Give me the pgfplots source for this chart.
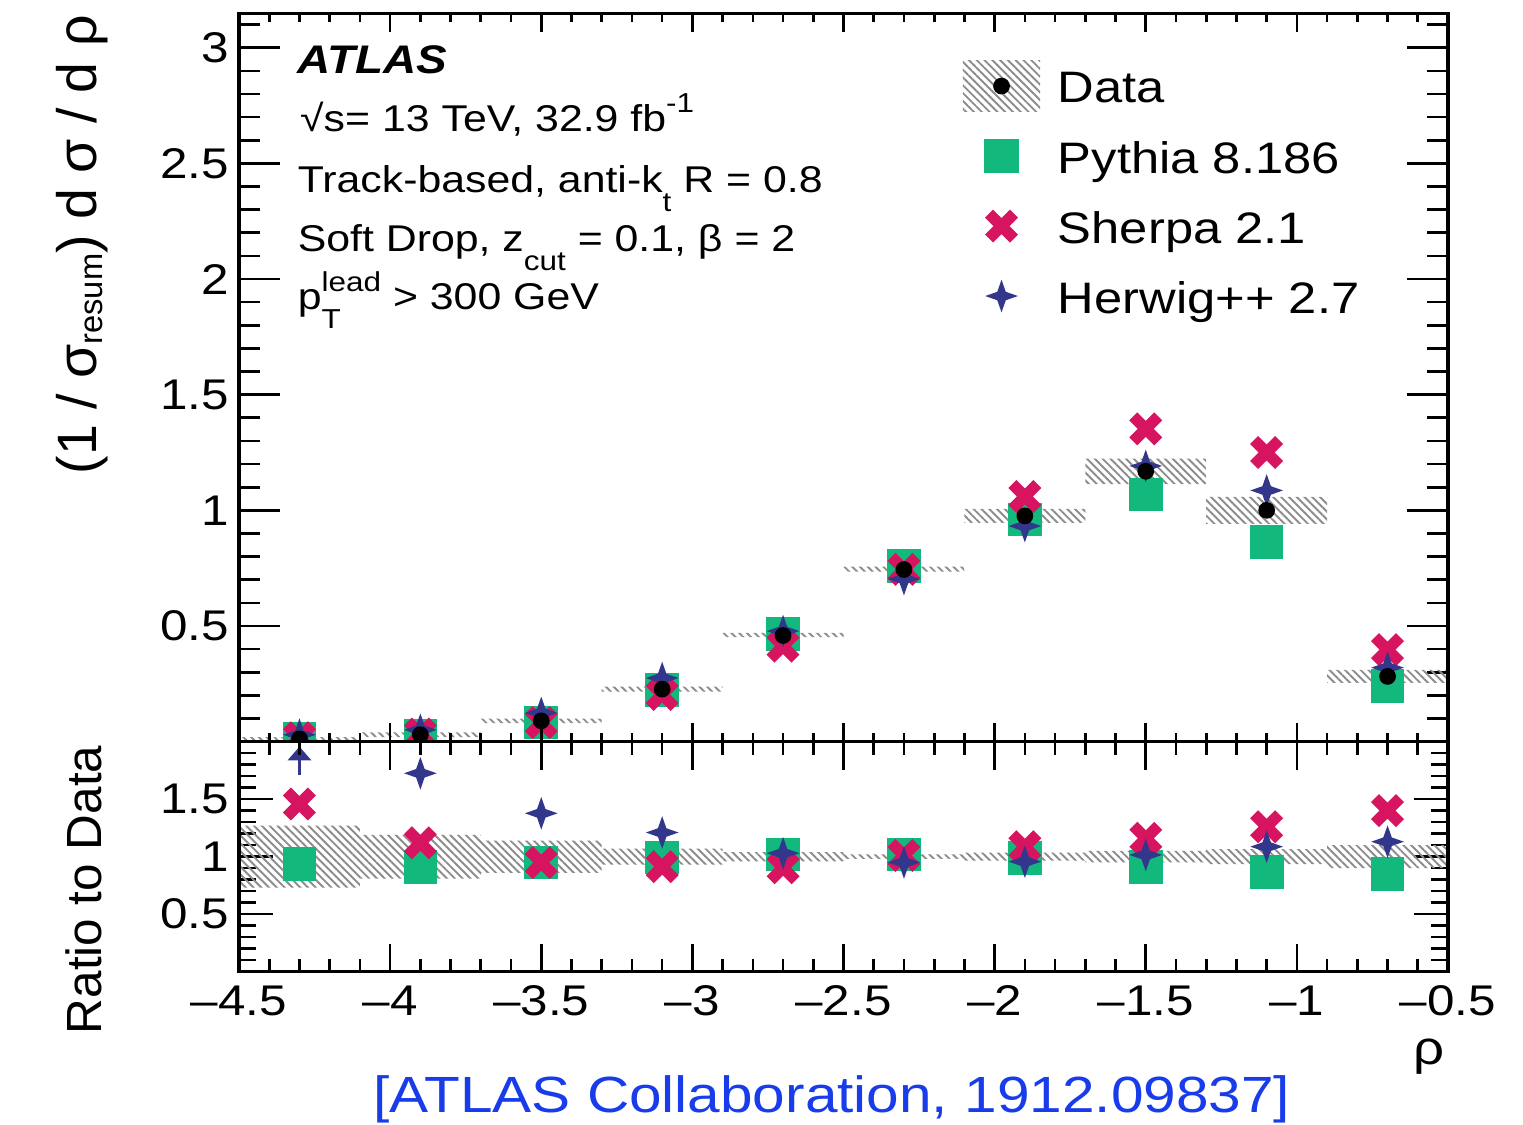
\documentclass[border=0pt]{standalone}
\usepackage{fontspec}
\setmainfont{Liberation Sans}[FakeStretch=1.15]
\newfontfamily\uprightlabel{Liberation Sans}
\usepackage{pgfplots}
\pgfplotsset{compat=1.18}
\usetikzlibrary{patterns.meta,arrows.meta}

\definecolor{pyg}{RGB}{18,184,124}
\definecolor{shp}{RGB}{214,20,96}
\definecolor{hwb}{RGB}{50,55,140}
\definecolor{hatch}{RGB}{140,140,140}
\definecolor{citeblue}{RGB}{25,60,235}

\newcommand\tsub[1]{\raisebox{-0.5em}{\fontsize{7.2}{7.2}\selectfont #1}}
\newcommand\tsup[1]{\raisebox{0.5em}{\fontsize{7.2}{7.2}\selectfont #1}}
\newcommand\labsub[1]{\raisebox{-0.12em}{\fontsize{8.6}{8.6}\selectfont #1}}
\newcommand\tickfont{\fontsize{11.3}{11.3}\selectfont}
\newcommand\infofont{\fontsize{9.8}{9.8}\selectfont}

% filled four-pointed star (Herwig++)
\pgfdeclareplotmark{fourstar}{%
  \pgfpathmoveto{\pgfqpoint{0pt}{\pgfplotmarksize}}%
  \pgfpathlineto{\pgfqpoint{0.26\pgfplotmarksize}{0.26\pgfplotmarksize}}%
  \pgfpathlineto{\pgfqpoint{\pgfplotmarksize}{0pt}}%
  \pgfpathlineto{\pgfqpoint{0.26\pgfplotmarksize}{-0.26\pgfplotmarksize}}%
  \pgfpathlineto{\pgfqpoint{0pt}{-\pgfplotmarksize}}%
  \pgfpathlineto{\pgfqpoint{-0.26\pgfplotmarksize}{-0.26\pgfplotmarksize}}%
  \pgfpathlineto{\pgfqpoint{-\pgfplotmarksize}{0pt}}%
  \pgfpathlineto{\pgfqpoint{-0.26\pgfplotmarksize}{0.26\pgfplotmarksize}}%
  \pgfpathclose
  \pgfusepathqfill}
% filled thick diagonal cross (Sherpa)
\pgfdeclareplotmark{thickx}{%
  \pgfpathmoveto{\pgfqpoint{-0.4808\pgfplotmarksize}{0.9334\pgfplotmarksize}}%
  \pgfpathlineto{\pgfqpoint{0pt}{0.4525\pgfplotmarksize}}%
  \pgfpathlineto{\pgfqpoint{0.4808\pgfplotmarksize}{0.9334\pgfplotmarksize}}%
  \pgfpathlineto{\pgfqpoint{0.9334\pgfplotmarksize}{0.4808\pgfplotmarksize}}%
  \pgfpathlineto{\pgfqpoint{0.4525\pgfplotmarksize}{0pt}}%
  \pgfpathlineto{\pgfqpoint{0.9334\pgfplotmarksize}{-0.4808\pgfplotmarksize}}%
  \pgfpathlineto{\pgfqpoint{0.4808\pgfplotmarksize}{-0.9334\pgfplotmarksize}}%
  \pgfpathlineto{\pgfqpoint{0pt}{-0.4525\pgfplotmarksize}}%
  \pgfpathlineto{\pgfqpoint{-0.4808\pgfplotmarksize}{-0.9334\pgfplotmarksize}}%
  \pgfpathlineto{\pgfqpoint{-0.9334\pgfplotmarksize}{-0.4808\pgfplotmarksize}}%
  \pgfpathlineto{\pgfqpoint{-0.4525\pgfplotmarksize}{0pt}}%
  \pgfpathlineto{\pgfqpoint{-0.9334\pgfplotmarksize}{0.4808\pgfplotmarksize}}%
  \pgfpathclose
  \pgfusepathqfill}

\pgfplotsset{
  atlasframe/.style={
    scale only axis, width=318.16pt, xmin=-4.5, xmax=-0.5,
    tick align=inside, tick pos=both,
    axis line style={line width=0.8pt},
    tick style={black, line width=0.7pt}},
  hatchband/.style={draw=none, unbounded coords=jump, pattern={Lines[angle=-45,distance=1.45pt,line width=0.5pt]}, pattern color=hatch, forget plot},
  pythia/.style={only marks, mark=square*, mark size=4.3pt, mark options={fill=pyg, draw=pyg, line width=0pt}, forget plot},
  sherpa/.style={only marks, mark=thickx, mark size=4.65pt, mark options={fill=shp, draw=none}, forget plot},
  herwig/.style={only marks, mark=fourstar, mark size=4.3pt, mark options={fill=hwb, draw=none}, forget plot},
  datapts/.style={only marks, mark=*, mark size=2pt, mark options={fill=black, draw=black}, forget plot},
}

\begin{document}
\begin{tikzpicture}

% ---------------- distribution panel ----------------
\begin{axis}[atlasframe, at={(62.9pt,100.87pt)}, anchor=south west,
  height=191.5pt, ymin=0, ymax=3.146,
  xtick=\empty,
  ytick={0.5,1,1.5,2,2.5,3}, yticklabels={0.5,1,1.5,2,2.5,3},
  minor ytick={0,0.1,...,3.1},
  major tick length=10.8pt, minor tick length=5.5pt,
  yticklabel style={font=\tickfont, inner sep=0pt, xshift=-2.4pt},
  every axis y label/.style={at={(axis description cs:-0.1299,0.9993)}, rotate=90, anchor=east, inner sep=0pt, font=\uprightlabel\fontsize{14.6}{14.6}\selectfont},
  ylabel={(1 / σ\labsub{resum}) d σ / d ρ},
  legend style={draw=none, fill=none, at={(axis description cs:0.5988,0.949)}, anchor=north west,
    inner sep=0pt, outer sep=0pt, row sep=0pt, font=\fontsize{11.6}{11.6}\selectfont,
    nodes={inner sep=0pt},
    /tikz/every odd column/.append style={column sep=4.7pt}},
  legend cell align=left,
]
% data uncertainty per bin: (left,lo) (right,lo) (right,hi) (left,hi)
\addplot[hatchband] coordinates {
  (-4.5,0.004) (-4.1,0.004) (-4.1,0.020) (-4.5,0.020) (-4.3,nan)
  (-4.1,0.020) (-3.7,0.020) (-3.7,0.040) (-4.1,0.040) (-3.9,nan)
  (-3.7,0.080) (-3.3,0.080) (-3.3,0.100) (-3.7,0.100) (-3.5,nan)
  (-3.3,0.216) (-2.9,0.216) (-2.9,0.238) (-3.3,0.238) (-3.1,nan)
  (-2.9,0.452) (-2.5,0.452) (-2.5,0.470) (-2.9,0.470) (-2.7,nan)
  (-2.5,0.735) (-2.1,0.735) (-2.1,0.757) (-2.5,0.757) (-2.3,nan)
  (-2.1,0.946) (-1.7,0.946) (-1.7,1.006) (-2.1,1.006) (-1.9,nan)
  (-1.7,1.113) (-1.3,1.113) (-1.3,1.224) (-1.7,1.224) (-1.5,nan)
  (-1.3,0.942) (-0.9,0.942) (-0.9,1.058) (-1.3,1.058) (-1.1,nan)
  (-0.9,0.254) (-0.5,0.254) (-0.5,0.310) (-0.9,0.310)};

\addplot[pythia] coordinates {
  (-4.3,0.011) (-3.9,0.026) (-3.5,0.083) (-3.1,0.222) (-2.7,0.464)
  (-2.3,0.760) (-1.9,0.961) (-1.5,1.069) (-1.1,0.864) (-0.7,0.240)};
\addplot[sherpa] coordinates {
  (-4.3,0.017) (-3.9,0.033) (-3.5,0.082) (-3.1,0.204) (-2.7,0.413)
  (-2.3,0.745) (-1.9,1.060) (-1.5,1.352) (-1.1,1.250) (-0.7,0.398)};
\addplot[herwig] coordinates {
  (-4.3,0.030) (-3.9,0.051) (-3.5,0.124) (-3.1,0.275) (-2.7,0.478)
  (-2.3,0.703) (-1.9,0.932) (-1.5,1.192) (-1.1,1.086) (-0.7,0.320)};
\addplot[datapts] coordinates {
  (-4.3,0.012) (-3.9,0.030) (-3.5,0.090) (-3.1,0.227) (-2.7,0.459)
  (-2.3,0.744) (-1.9,0.976) (-1.5,1.169) (-1.1,1.000) (-0.7,0.282)};

\addlegendimage{legend image code/.code={
  \path[draw=none, fill=none] (0pt,-8.01pt) rectangle (20.3pt,10.41pt);
  \fill[draw=none, pattern={Lines[angle=-45,distance=1.45pt,line width=0.5pt]}, pattern color=hatch] (0pt,-5.4pt) rectangle (20.3pt,7.8pt);
  \draw[only marks, mark=*, mark size=2pt, mark options={fill=black, draw=black}] plot coordinates {(10.15pt,1.2pt)};}}
\addlegendentry{Data}
\addlegendimage{legend image code/.code={
  \path[draw=none, fill=none] (0pt,-8.01pt) rectangle (20.3pt,10.41pt);
  \draw[only marks, mark=square*, mark size=4.3pt, mark options={fill=pyg, draw=pyg}] plot coordinates {(10.15pt,1.2pt)};}}
\addlegendentry{Pythia 8.186}
\addlegendimage{legend image code/.code={
  \path[draw=none, fill=none] (0pt,-8.01pt) rectangle (20.3pt,10.41pt);
  \draw[only marks, mark=thickx, mark size=4.65pt, mark options={fill=shp, draw=none}] plot coordinates {(10.15pt,1.2pt)};}}
\addlegendentry{Sherpa 2.1}
\addlegendimage{legend image code/.code={
  \path[draw=none, fill=none] (0pt,-8.01pt) rectangle (20.3pt,10.41pt);
  \draw[only marks, mark=fourstar, mark size=4.3pt, mark options={fill=hwb, draw=none}] plot coordinates {(10.15pt,1.2pt)};}}
\addlegendentry{Herwig++ 2.7}

\node[anchor=base west, inner sep=0pt, font=\fontsize{10.5}{10.5}\selectfont\bfseries\itshape] at (axis description cs:0.048,0.9185) {ATLAS};
\node[anchor=base west, inner sep=0pt, font=\infofont] at (axis description cs:0.050,0.8383) {√s= 13 TeV, 32.9 fb\tsup{-1}};
\node[anchor=base west, inner sep=0pt, font=\infofont] at (axis description cs:0.048,0.7544) {Track-based, anti-k\tsub{t} R = 0.8};
\node[anchor=base west, inner sep=0pt, font=\infofont] at (axis description cs:0.048,0.6733) {Soft Drop, z\tsub{cut} = 0.1, β = 2};
\node[anchor=base west, inner sep=0pt, font=\infofont] at (axis description cs:0.048,0.5932) {p\rlap{\tsub{T}}\tsup{lead} > 300 GeV};
\end{axis}

% x ticks of the distribution panel
\begin{axis}[atlasframe, at={(62.9pt,100.87pt)}, anchor=south west,
  height=191.5pt, ymin=0, ymax=3.146,
  ytick=\empty, xtick={-4.5,-4,...,-0.5}, minor xtick={-4.5,-4.4,...,-0.5},
  xticklabels={}, major tick length=4.8pt, minor tick length=2.2pt]
\addplot[draw=none, forget plot] coordinates {(-4.5,0) (-0.5,3.146)};
\end{axis}

% ---------------- ratio panel ----------------
% (white background hides markers of the upper panel that reach below zero)
\begin{axis}[atlasframe, at={(62.9pt,40.34pt)}, anchor=south west,
  height=60.53pt, ymin=0, ymax=2,
  axis background/.style={fill=white},
  xtick=\empty,
  ytick={0.5,1,1.5}, yticklabels={0.5,1,1.5},
  minor ytick={0,0.1,...,2},
  major tick length=9pt, minor tick length=4.5pt,
  yticklabel style={font=\tickfont, inner sep=0pt, xshift=-2.4pt},
  every axis y label/.style={at={(axis description cs:-0.128,0.9857)}, rotate=90, anchor=east, inner sep=0pt, font=\uprightlabel\fontsize{13}{13}\selectfont},
  ylabel={Ratio to Data},
]
\addplot[hatchband] coordinates {
  (-4.5,0.73) (-4.1,0.73) (-4.1,1.27) (-4.5,1.27) (-4.3,nan)
  (-4.1,0.81) (-3.7,0.81) (-3.7,1.19) (-4.1,1.19) (-3.9,nan)
  (-3.7,0.86) (-3.3,0.86) (-3.3,1.14) (-3.7,1.14) (-3.5,nan)
  (-3.3,0.93) (-2.9,0.93) (-2.9,1.07) (-3.3,1.07) (-3.1,nan)
  (-2.9,0.96) (-2.5,0.96) (-2.5,1.04) (-2.9,1.04) (-2.7,nan)
  (-2.5,0.98) (-2.1,0.98) (-2.1,1.02) (-2.5,1.02) (-2.3,nan)
  (-2.1,0.965) (-1.7,0.965) (-1.7,1.035) (-2.1,1.035) (-1.9,nan)
  (-1.7,0.95) (-1.3,0.95) (-1.3,1.05) (-1.7,1.05) (-1.5,nan)
  (-1.3,0.935) (-0.9,0.935) (-0.9,1.065) (-1.3,1.065) (-1.1,nan)
  (-0.9,0.90) (-0.5,0.90) (-0.5,1.10) (-0.9,1.10)};

\addplot[pythia] coordinates {
  (-4.3,0.938) (-3.9,0.910) (-3.5,0.948) (-3.1,0.994) (-2.7,1.020)
  (-2.3,1.020) (-1.9,0.986) (-1.5,0.913) (-1.1,0.864) (-0.7,0.850)};
\addplot[sherpa] coordinates {
  (-4.3,1.458) (-3.9,1.120) (-3.5,0.948) (-3.1,0.913) (-2.7,0.904)
  (-2.3,1.010) (-1.9,1.087) (-1.5,1.160) (-1.1,1.260) (-0.7,1.400)};
\addplot[herwig] coordinates {
  (-3.9,1.725) (-3.5,1.377) (-3.1,1.210) (-2.7,1.030)
  (-2.3,0.950) (-1.9,0.957) (-1.5,1.015) (-1.1,1.087) (-0.7,1.130)};
% Herwig++ ratio off scale in the first bin
\addplot[hwb, line width=0.9pt, quiver={u=0, v=0.247}, -{Triangle[width=6pt,length=3.6pt]}, forget plot]
  coordinates {(-4.3,1.71)};
\end{axis}

% x ticks and labels of the ratio panel
\begin{axis}[atlasframe, at={(62.9pt,40.34pt)}, anchor=south west,
  height=60.53pt, ymin=0, ymax=2,
  ytick=\empty, xtick={-4.5,-4,...,-0.5}, minor xtick={-4.5,-4.4,...,-0.5},
  xticklabels={\textendash4.5,\textendash4,\textendash3.5,\textendash3,\textendash2.5,\textendash2,\textendash1.5,\textendash1,\textendash0.5},
  xticklabel style={font=\tickfont, inner sep=0pt, yshift=-3.5pt},
  major tick length=7.4pt, minor tick length=3.4pt,
  every axis x label/.style={at={(axis description cs:0.9975,0)}, anchor=north east, inner sep=0pt, yshift=-17.4pt, font=\fontsize{12.5}{12.5}\selectfont},
  xlabel={ρ}]
\addplot[draw=none, forget plot] coordinates {(-4.5,0) (-0.5,2)};
\end{axis}

\node[anchor=base, inner sep=0pt, text=citeblue, font=\fontsize{13.4}{13.4}\selectfont] at (218.9pt,3.16pt) {[ATLAS Collaboration, 1912.09837]};
\path (0pt,0pt) rectangle (400.8pt,296.05pt);
\end{tikzpicture}
\end{document}
